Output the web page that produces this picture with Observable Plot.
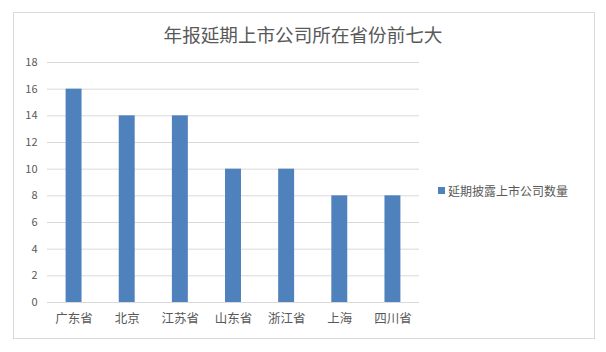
<!DOCTYPE html>
<html><head><meta charset="utf-8">
<script src="https://cdn.jsdelivr.net/npm/d3@7"></script>
<script src="https://cdn.jsdelivr.net/npm/@observablehq/plot@0.6"></script>
<style>
body{margin:0;background:#fff;font-family:"Noto Sans CJK SC","Noto Sans",sans-serif;}
#wrap{position:relative;width:606px;height:352px;}
#frame{position:absolute;left:13px;top:12px;width:582px;height:327px;border:1px solid #d9d9d9;box-sizing:border-box;}
#title{position:absolute;left:0;top:20px;width:606px;text-align:center;font-size:18.6px;color:#595959;}
#chart{position:absolute;left:0;top:0;}
#legend{position:absolute;left:438px;top:182px;font-size:12px;color:#595959;display:flex;align-items:center;}
#legend span.sw{display:inline-block;width:7px;height:7px;background:#4f81bd;margin-right:3px;}
</style></head>
<body><div id="wrap"><div id="frame"></div><div id="title">年报延期上市公司所在省份前七大</div><div id="chart"></div>
<div id="legend"><span class="sw"></span><span id="legtext"></span></div></div>
<script>
const categories = ["广东省","北京","江苏省","山东省","浙江省","上海","四川省"];
const values = [16,14,14,10,10,8,8];
const seriesName = "延期披露上市公司数量";
const yTicks = [0,2,4,6,8,10,12,14,16,18];
const data = categories.map((c,i)=>({cat:c,val:values[i]}));
document.getElementById("legtext").textContent = seriesName;
const chart = Plot.plot({
  width: 430, height: 340,
  marginLeft: 47, marginRight: 11, marginTop: 62, marginBottom: 38,
  style: {fontFamily: '"Noto Sans CJK SC","Noto Sans",sans-serif', fontSize: "11px", color: "#595959", background: "transparent"},
  x: {domain: categories, label: null, round: false, paddingInner: 0.7, paddingOuter: 0.35, tickSize: 0, tickPadding: 12},
  y: {domain: [0,18], ticks: yTicks, label: null, tickSize: 0, tickPadding: 11},
  marks: [
    Plot.gridY(yTicks, {stroke: "#d9d9d9", strokeOpacity: 1}),
    Plot.barY(data, {x: "cat", y: "val", fill: "#4f81bd"}),
    Plot.ruleY([0], {stroke: "#d9d9d9", strokeOpacity: 1}),
    Plot.axisX({tickSize: 0, tickPadding: 12, fontSize: 12.5, label: null}),
    Plot.axisY(yTicks, {tickSize: 0, tickPadding: 10, label: null})
  ]
});
document.getElementById("chart").appendChild(chart);
</script></body></html>
